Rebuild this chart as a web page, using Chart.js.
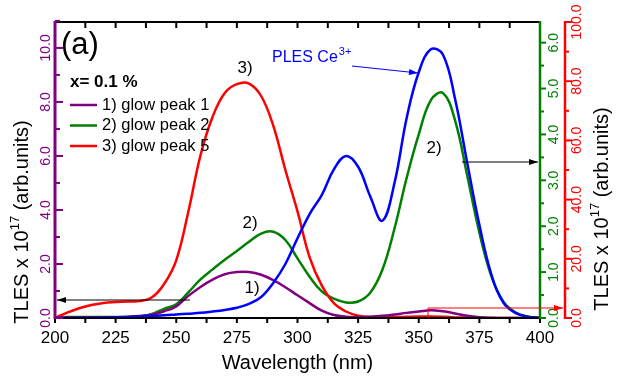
<!DOCTYPE html>
<html>
<head>
<meta charset="utf-8">
<script src="https://cdn.jsdelivr.net/npm/chart.js@4.4.0/dist/chart.umd.min.js"></script>
<style>
  body { margin: 0; background: #fff; }
  canvas { display: block; }
</style>
</head>
<body>
<canvas id="chart" width="621" height="381"></canvas>
<script>
// wavelength grid (nm)
const wavelength = [200,205,210,215,220,225,230,235,240,245,250,255,260,265,270,275,280,285,290,295,
                    300,305,310,315,320,325,330,335,340,345,350,355,360,365,370,375,380,385,390,395,400];

// 1) glow peak 1 (left purple axis)
const glowPeak1 = [0,0.02,0.02,0.02,0.02,0.02,0.04,0.07,0.12,0.25,0.43,0.82,1.15,1.42,1.62,1.70,1.70,1.60,1.40,1.14,
                   0.84,0.55,0.27,0.11,0.05,0.04,0.05,0.08,0.13,0.19,0.24,0.29,0.25,0.17,0.08,0.03,0.01,0,0,0,0];
// 2) glow peak 2 (green axis)
const glowPeak2 = [0,0.02,0.02,0.02,0.02,0.02,0.02,0.04,0.09,0.20,0.30,0.56,0.84,1.06,1.27,1.46,1.66,1.84,1.88,1.70,
                   1.30,0.90,0.58,0.42,0.34,0.36,0.55,1.05,1.95,3.05,4.00,4.75,4.90,4.30,3.10,1.86,0.90,0.35,0.12,0.03,0];
// 3) glow peak 5 (red axis)
const glowPeak5 = [0,1.8,3.3,4.4,5.1,5.4,5.6,5.7,7.0,11.5,19.5,36,55,68,76,79,79.2,75,65,50,
                   36,20.5,11,5,2.2,0.8,0.3,0.3,0.3,0.4,0.5,0.5,0.4,0.2,0.1,0,0,0,0,0,0];
// PLES Ce3+ (left axis)
const plesCe = [0,0,0.01,0.01,0.02,0.03,0.04,0.06,0.08,0.10,0.13,0.16,0.19,0.24,0.30,0.38,0.52,0.78,1.30,2.00,
                2.95,3.85,4.55,5.50,6.00,5.60,4.50,3.60,5.00,7.40,9.10,9.95,9.75,8.10,5.74,3.45,1.60,0.55,0.18,0.05,0];

const xTicks = [200,225,250,275,300,325,350,375,400];
const leftTicks = [0,2,4,6,8,10];
const greenTicks = [0,1,2,3,4,5,6];
const redTicks = [0,20,40,60,80,100];

const PURPLE = "#800080", GREEN = "#008000", RED = "#ff0000", BLUE = "#0000ff";
const FONT = "'Liberation Sans', Arial, sans-serif";

function pts(ys) { return wavelength.map((x, i) => ({ x: x, y: ys[i] })); }

function line(ctx, x1, y1, x2, y2) {
    ctx.beginPath(); ctx.moveTo(x1, y1); ctx.lineTo(x2, y2); ctx.stroke();
}
function arrow(ctx, x1, y1, x2, y2, color) {
    ctx.strokeStyle = color; ctx.fillStyle = color; ctx.lineWidth = 1;
    line(ctx, x1, y1, x2, y2);
    const a = Math.atan2(y2 - y1, x2 - x1);
    ctx.beginPath();
    ctx.moveTo(x2, y2);
    ctx.lineTo(x2 - 9 * Math.cos(a) + 3 * Math.sin(a), y2 - 9 * Math.sin(a) - 3 * Math.cos(a));
    ctx.lineTo(x2 - 9 * Math.cos(a) - 3 * Math.sin(a), y2 - 9 * Math.sin(a) + 3 * Math.cos(a));
    ctx.closePath(); ctx.fill();
}
function vtext(ctx, txt, x, y) {
    ctx.save(); ctx.translate(x, y); ctx.rotate(-Math.PI / 2);
    ctx.textAlign = "center"; ctx.textBaseline = "middle";
    ctx.fillText(txt, 0, 0); ctx.restore();
}
function vtitle(ctx, x, y) {
    ctx.save(); ctx.translate(x, y); ctx.rotate(-Math.PI / 2);
    ctx.fillStyle = "#000"; ctx.textBaseline = "middle"; ctx.textAlign = "left";
    const big = "20px " + FONT, small = "13px " + FONT;
    ctx.font = big; const w1 = ctx.measureText("TLES x 10").width;
    const w3 = ctx.measureText(" (arb.units)").width;
    ctx.font = small; const w2 = ctx.measureText("17").width;
    let s = -(w1 + w2 + w3) / 2;
    ctx.font = big; ctx.fillText("TLES x 10", s, 0);
    ctx.font = small; ctx.fillText("17", s + w1, -7);
    ctx.font = big; ctx.fillText(" (arb.units)", s + w1 + w2, 0);
    ctx.restore();
}

const axesPlugin = {
    id: "axes",
    afterDatasetsDraw(chart) {
        const ctx = chart.ctx, a = chart.chartArea;
        const sx = chart.scales.x, sl = chart.scales.yL, sg = chart.scales.yG, sr = chart.scales.yR;
        ctx.save();

        // top / bottom frame and x ticks
        ctx.strokeStyle = "#000"; ctx.lineWidth = 2;
        line(ctx, a.left, a.top, a.right, a.top);
        line(ctx, a.left, a.bottom, a.right, a.bottom);
        for (let v = 200; v <= 400; v += 12.5) {
            const px = sx.getPixelForValue(v);
            line(ctx, px, a.bottom, px, a.bottom + 5);
            line(ctx, px, a.top, px, a.top + 6);
        }
        ctx.fillStyle = "#000"; ctx.font = "17px " + FONT;
        ctx.textAlign = "center"; ctx.textBaseline = "middle";
        xTicks.forEach(v => ctx.fillText(String(v), sx.getPixelForValue(v), a.bottom + 20));
        ctx.font = "20px " + FONT;
        ctx.fillText("Wavelength (nm)", (a.left + a.right) / 2, a.bottom + 45);

        // left purple axis
        ctx.strokeStyle = PURPLE; ctx.lineWidth = 3;
        line(ctx, a.left, a.top - 1, a.left, a.bottom + 1);
        ctx.lineWidth = 2;
        for (let v = 0; v <= 11; v += 1) {
            const py = sl.getPixelForValue(v);
            line(ctx, a.left, py, a.left + (v % 2 === 0 ? 8 : 5), py);
        }
        ctx.fillStyle = PURPLE; ctx.font = "14px " + FONT;
        leftTicks.forEach(v => vtext(ctx, v.toFixed(1), a.left - 9, sl.getPixelForValue(v)));

        // green axis
        ctx.strokeStyle = GREEN; ctx.lineWidth = 2.5;
        line(ctx, a.right, a.top - 1, a.right, a.bottom + 1);
        ctx.lineWidth = 2;
        for (let v = 0; v <= 6.4; v += 0.5) {
            const py = sg.getPixelForValue(v);
            line(ctx, a.right, py, a.right + (v % 1 === 0 ? 6 : 4), py);
        }
        ctx.fillStyle = GREEN;
        greenTicks.forEach(v => vtext(ctx, v.toFixed(1), a.right + 14, sg.getPixelForValue(v)));

        // red axis
        const rx = a.right + 25;
        ctx.strokeStyle = RED; ctx.lineWidth = 2.5;
        line(ctx, rx, a.top - 1, rx, a.bottom + 1);
        ctx.lineWidth = 2;
        for (let v = 0; v <= 100; v += 10) {
            const py = sr.getPixelForValue(v);
            line(ctx, rx, py, rx + (v % 20 === 0 ? 7 : 4), py);
        }
        ctx.fillStyle = RED;
        redTicks.forEach(v => vtext(ctx, v.toFixed(1), rx + 12, sr.getPixelForValue(v)));

        // axis titles
        vtitle(ctx, 22, 222);
        vtitle(ctx, 602, 209);

        // panel label and legend
        ctx.fillStyle = "#000"; ctx.textAlign = "left"; ctx.textBaseline = "middle";
        ctx.font = "31px " + FONT; ctx.fillText("(a)", 61, 45);
        ctx.font = "bold 17px " + FONT; ctx.fillText("x= 0.1 %", 70, 82);
        const legend = [["1) glow peak 1", PURPLE], ["2) glow peak 2", GREEN], ["3) glow peak 5", RED]];
        ctx.font = "16.5px " + FONT;
        legend.forEach((l, i) => {
            const y = 105 + i * 20.5;
            ctx.strokeStyle = l[1]; ctx.lineWidth = 2.5;
            line(ctx, 70, y, 97, y);
            ctx.fillStyle = "#000"; ctx.fillText(l[0], 102, y);
        });

        // curve labels
        ctx.font = "17px " + FONT; ctx.textAlign = "center";
        ctx.fillText("3)", 245, 68);
        ctx.fillText("2)", 250, 223);
        ctx.fillText("1)", 252, 288);
        ctx.fillText("2)", 434, 148);

        // PLES label
        ctx.fillStyle = BLUE; ctx.textAlign = "left"; ctx.font = "16px " + FONT;
        ctx.fillText("PLES Ce", 272, 58);
        const wp = ctx.measureText("PLES Ce").width;
        ctx.font = "11px " + FONT; ctx.fillText("3+", 272 + wp + 1, 52);
        arrow(ctx, 352, 66, 418, 73, BLUE);

        // pointer arrows
        arrow(ctx, 190, 300, 57, 300, "#000");
        arrow(ctx, 462, 162, 538, 162, "#000");
        ctx.strokeStyle = RED; ctx.lineWidth = 1;
        line(ctx, 428, a.bottom, 428, 308);
        arrow(ctx, 428, 308, 563, 308, RED);

        ctx.restore();
    }
};

new Chart(document.getElementById("chart"), {
    type: "line",
    data: {
        datasets: [
            { data: pts(plesCe), borderColor: BLUE, yAxisID: "yL" },
            { data: pts(glowPeak1), borderColor: PURPLE, yAxisID: "yL" },
            { data: pts(glowPeak5), borderColor: RED, yAxisID: "yR" },
            { data: pts(glowPeak2), borderColor: GREEN, yAxisID: "yG" }
        ]
    },
    options: {
        responsive: false,
        animation: false,
        layout: { padding: { left: 55, right: 81, top: 22, bottom: 63 } },
        elements: {
            point: { radius: 0 },
            line: { borderWidth: 2.5, tension: 0.4, fill: false }
        },
        plugins: { legend: { display: false }, tooltip: { enabled: false } },
        scales: {
            x: { type: "linear", min: 200, max: 400, display: false },
            yL: { type: "linear", min: 0, max: 10.96, display: false },
            yG: { type: "linear", min: 0, max: 6.45, display: false },
            yR: { type: "linear", min: 0, max: 100, display: false }
        }
    },
    plugins: [axesPlugin]
});
</script>
</body>
</html>
